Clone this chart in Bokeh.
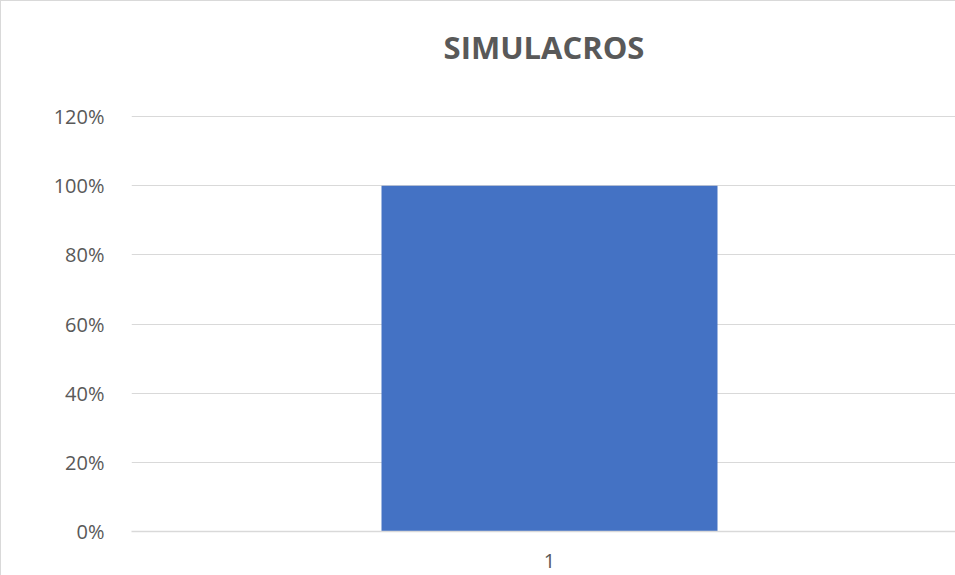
from bokeh.plotting import figure
from bokeh.models import Range1d, FixedTicker, NumeralTickFormatter, ColumnDataSource
from bokeh.embed import file_html
from bokeh.resources import INLINE

# data
categories = ["1"]
positions = [1]
values = [1.0]
y_ticks = [0, 0.2, 0.4, 0.6, 0.8, 1.0, 1.2]
title_text = "SIMULACROS"

source = ColumnDataSource(dict(x=positions, top=values))

p = figure(width=955, height=575, output_backend="svg", toolbar_location=None,
           x_range=Range1d(0.49333, 1.49333), y_range=Range1d(0, 1.281),
           min_border_left=130, min_border_right=0, min_border_bottom=45, min_border_top=87)

p.title.text = title_text
p.title.align = "center"
p.title.text_font = "Open Sans"
p.title.text_font_style = "bold"
p.title.text_font_size = "31px"
p.title.text_color = "#595959"
p.title.standoff = 42

p.vbar(x="x", top="top", width=0.40727, source=source, color="#4472C4", line_color=None)

p.outline_line_color = None
p.background_fill_color = "white"
p.border_fill_color = "white"

p.xgrid.grid_line_color = None
p.ygrid.grid_line_color = "#d9d9d9"
p.ygrid.grid_line_width = 1
p.ygrid.ticker = FixedTicker(ticks=y_ticks)

p.yaxis.ticker = FixedTicker(ticks=y_ticks)
p.yaxis.formatter = NumeralTickFormatter(format="0%")
p.yaxis.axis_line_color = None
p.yaxis.major_tick_line_color = None
p.yaxis.minor_tick_line_color = None
p.yaxis.major_label_standoff = 21
p.yaxis.major_label_text_font = "Open Sans"
p.yaxis.major_label_text_font_size = "20px"
p.yaxis.major_label_text_color = "#595959"

p.xaxis.ticker = FixedTicker(ticks=positions)
p.xaxis.major_label_overrides = {pos: lab for pos, lab in zip(positions, categories)}
p.xaxis.axis_line_color = "#d9d9d9"
p.xaxis.axis_line_width = 1.5
p.xaxis.major_tick_line_color = None
p.xaxis.minor_tick_line_color = None
p.xaxis.major_label_standoff = 16
p.xaxis.major_label_text_font = "Open Sans"
p.xaxis.major_label_text_font_size = "20px"
p.xaxis.major_label_text_color = "#595959"

p.styles = {"border-left": "1px solid #d9d9d9", "border-top": "1px solid #d9d9d9"}

open("out.html", "w").write(file_html(p, INLINE))
